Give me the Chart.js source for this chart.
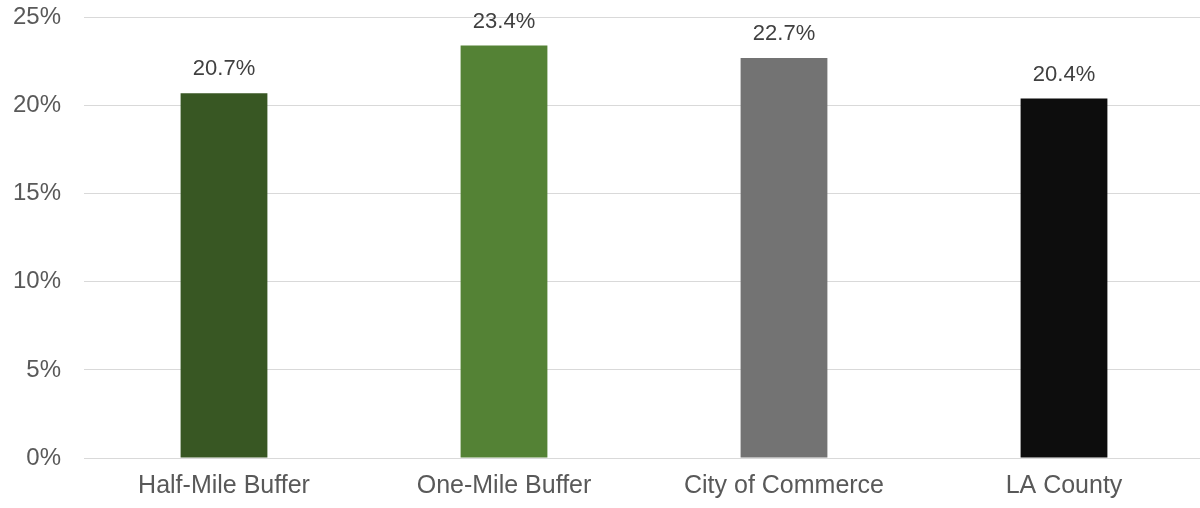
<!DOCTYPE html>
<html>
<head>
<meta charset="utf-8">
<script src="https://cdn.jsdelivr.net/npm/chart.js@4"></script>
<style>
  html, body { margin: 0; padding: 0; background: #ffffff; overflow: hidden; }
  #wrap { position: absolute; left: 0; top: -20px; width: 1204px; height: 528px; }
</style>
</head>
<body>
<div id="wrap"><canvas id="chart"></canvas></div>
<script>
// Share of residents, by area
const categories = ["Half-Mile Buffer", "One-Mile Buffer", "City of Commerce", "LA County"];
const values = [20.7, 23.4, 22.7, 20.4];
const barColors = ["#385723", "#548235", "#737373", "#0d0d0d"];
const yTicks = [0, 5, 10, 15, 20, 25];

const FONT = '"Liberation Sans", Arial, sans-serif';

// Writes each bar's percentage just above it
const valueLabels = {
  id: "valueLabels",
  afterDatasetsDraw(chart) {
    const ctx = chart.ctx;
    const meta = chart.getDatasetMeta(0);
    ctx.save();
    ctx.font = "22px " + FONT;
    ctx.fillStyle = "#404040";
    ctx.textAlign = "center";
    ctx.textBaseline = "middle";
    meta.data.forEach((bar, i) => {
      ctx.fillText(values[i].toFixed(1) + "%", bar.x, bar.y - 24);
    });
    ctx.restore();
  }
};

new Chart(document.getElementById("chart"), {
  type: "bar",
  data: {
    labels: categories,
    datasets: [{
      data: values,
      backgroundColor: barColors,
      borderWidth: 0,
      categoryPercentage: 1,
      barPercentage: 0.31
    }]
  },
  options: {
    responsive: true,
    maintainAspectRatio: false,
    animation: false,
    layout: { padding: { top: 16, right: 0, bottom: 0, left: 0 } },
    plugins: {
      legend: { display: false },
      tooltip: { enabled: false }
    },
    scales: {
      x: {
        grid: { display: false, drawTicks: false },
        border: { display: false },
        ticks: {
          color: "#595959",
          font: { family: FONT, size: 25 },
          padding: 13,
          maxRotation: 0
        },
        afterFit(scale) { scale.height = 50; }
      },
      y: {
        min: 0,
        max: 25,
        afterBuildTicks(scale) { scale.ticks = yTicks.map(v => ({ value: v })); },
        grid: { color: "#d9d9d9", lineWidth: 1, drawTicks: false },
        border: { display: false },
        ticks: {
          color: "#595959",
          font: { family: FONT, size: 24 },
          padding: 23,
          callback: v => v + "%"
        },
        afterFit(scale) { scale.width = 84; }
      }
    }
  },
  plugins: [valueLabels]
});
</script>
</body>
</html>
